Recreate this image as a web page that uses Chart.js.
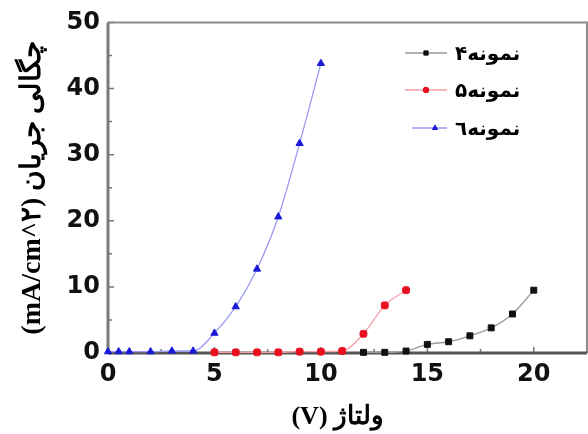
<!DOCTYPE html>
<html><head><meta charset="utf-8">
<script src="https://cdn.jsdelivr.net/npm/chart.js@4"></script>
<style>html,body{margin:0;padding:0;background:#fff}</style>
</head><body>
<canvas id="c" width="588" height="434" style="width:588px;height:434px;display:block"></canvas>
<script>
// ---- data ----
const seriesNames = ['نمونه۴', 'نمونه۵', 'نمونه\u0666'];
const volts4 = [12, 13, 14, 15, 16, 17, 18, 19, 20];
const current4 = [0.1, 0.1, 0.3, 1.3, 1.7, 2.6, 3.8, 5.9, 9.5];
const volts5 = [5, 6, 7, 8, 9, 10, 11, 12, 13, 14];
const current5 = [0.1, 0.1, 0.1, 0.1, 0.2, 0.2, 0.3, 2.9, 7.2, 9.5];
const volts6 = [0, 0.5, 1, 2, 3, 4, 5, 6, 7, 8, 9, 10];
const current6 = [0.2, 0.2, 0.2, 0.2, 0.3, 0.3, 3.0, 7.0, 12.7, 20.6, 31.7, 43.8];
const xTickValues = [0, 5, 10, 15, 20];
const xMinorTicks = [2.5, 7.5, 12.5, 17.5];
const yTickValues = [0, 10, 20, 30, 40, 50];
const yMinorTicks = [5, 15, 25, 35, 45];
const xTitle = 'ولتاژ (V)';
const yTitle = 'چگالی جریان (mA/cm^۲)';

const RLE = '\u202B', PDF = '\u202C';
const pts = (xs, ys) => xs.map((x, i) => ({x: x, y: ys[i]}));

const styles = [
  {line: '#9a9a9a', mark: '#111111', shape: 'rect', r: 4.2},
  {line: '#f3a0a6', mark: '#e8101e', shape: 'rectRounded', r: 4},
  {line: '#9a9af2', mark: '#1a1ad6', shape: 'triangle', r: 4.2}
];
const seriesData = [pts(volts4, current4), pts(volts5, current5), pts(volts6, current6)];

const datasets = seriesNames.map((n, i) => ({
  label: n,
  data: seriesData[i],
  borderColor: styles[i].line,
  backgroundColor: styles[i].mark,
  pointBackgroundColor: styles[i].mark,
  pointBorderColor: styles[i].mark,
  pointStyle: styles[i].shape,
  pointRadius: styles[i].r,
  pointBorderWidth: 1,
  borderWidth: 1.3,
  cubicInterpolationMode: 'monotone',
  clip: false
}));

const framePlugin = {
  id: 'frame',
  beforeDatasetsDraw(chart) {
    const {ctx, chartArea: a, scales: {x, y}} = chart;
    ctx.save();
    ctx.strokeStyle = '#777';
    ctx.lineWidth = 1.5;
    ctx.beginPath();
    yTickValues.forEach(v => { const p = y.getPixelForValue(v); ctx.moveTo(a.left, p); ctx.lineTo(a.left + 6, p); });
    yMinorTicks.forEach(v => { const p = y.getPixelForValue(v); ctx.moveTo(a.left, p); ctx.lineTo(a.left + 4, p); });
    xTickValues.forEach(v => { const p = x.getPixelForValue(v); ctx.moveTo(p, a.bottom); ctx.lineTo(p, a.bottom - 6); });
    xMinorTicks.forEach(v => { const p = x.getPixelForValue(v); ctx.moveTo(p, a.bottom); ctx.lineTo(p, a.bottom - 4); });
    ctx.stroke();
    ctx.lineWidth = 2;
    ctx.strokeStyle = '#8a8a8a';
    ctx.beginPath();
    ctx.moveTo(a.left, a.top); ctx.lineTo(a.right, a.top); ctx.lineTo(a.right, a.bottom);
    ctx.stroke();
    ctx.lineWidth = 3;
    ctx.strokeStyle = '#7a7a7a';
    ctx.beginPath();
    ctx.moveTo(a.left, a.top); ctx.lineTo(a.left, a.bottom);
    ctx.stroke();
    ctx.strokeStyle = '#555';
    ctx.beginPath();
    ctx.moveTo(a.left, a.bottom); ctx.lineTo(a.right, a.bottom);
    ctx.stroke();
    ctx.restore();
  }
};

const legendPlugin = {
  id: 'insideLegend',
  afterDraw(chart) {
    const {ctx} = chart;
    const rows = [53, 90, 128];
    ctx.save();
    chart.data.datasets.forEach((ds, i) => {
      const yy = rows[i];
      ctx.strokeStyle = ds.borderColor;
      ctx.lineWidth = 1.5;
      ctx.beginPath(); ctx.moveTo(i === 2 ? 412 : 405, yy); ctx.lineTo(447, yy); ctx.stroke();
      ctx.fillStyle = ds.pointBackgroundColor;
      ctx.strokeStyle = ds.pointBorderColor;
      ctx.lineWidth = 1;
      Chart.helpers.drawPoint(ctx, {pointStyle: ds.pointStyle, radius: 3, borderWidth: 1, rotation: 0}, i === 2 ? 435 : 426, yy);
      ctx.fillStyle = '#000';
      ctx.font = 'bold 20px "DejaVu Sans"';
      ctx.textAlign = 'left';
      ctx.textBaseline = 'middle';
      ctx.fillText(RLE + ds.label + PDF, 455, yy + 2);
    });
    ctx.restore();
  }
};

new Chart(document.getElementById('c'), {
  type: 'line',
  data: {datasets},
  options: {
    responsive: false,
    devicePixelRatio: 1,
    animation: false,
    layout: {autoPadding: false, padding: {top: 21, right: 1, left: 0, bottom: 0}},
    plugins: {legend: {display: false}, tooltip: {enabled: false}},
    scales: {
      x: {
        type: 'linear', min: 0, max: 22.5,
        afterBuildTicks: s => { s.ticks = xTickValues.map(v => ({value: v})); },
        afterFit: s => { s.height = 81; s.paddingLeft = 0; s.paddingRight = 0; },
        grid: {display: false, drawTicks: false},
        border: {display: false},
        ticks: {color: '#111', padding: 7, font: {family: 'DejaVu Sans', size: 24, weight: 'bold'}},
        title: {display: true, text: RLE + '\u00A0\u00A0\u00A0' + xTitle + PDF, color: '#000',
          font: {family: 'Liberation Serif', size: 26, weight: 'bold'}, padding: {top: 0, bottom: 1}}
      },
      y: {
        type: 'linear', min: 0, max: 50,
        afterBuildTicks: s => { s.ticks = yTickValues.map(v => ({value: v})); },
        afterFit: s => { s.width = 108; },
        grid: {display: false, drawTicks: false},
        border: {display: false},
        ticks: {color: '#111', padding: 8, font: {family: 'DejaVu Sans', size: 24, weight: 'bold'}},
        title: {display: true, text: RLE + yTitle + PDF, color: '#000',
          font: {family: 'Liberation Serif', size: 28, weight: 'bold'}, padding: {top: 16, bottom: 0}}
      }
    }
  },
  plugins: [framePlugin, legendPlugin]
});
</script>
</body></html>
